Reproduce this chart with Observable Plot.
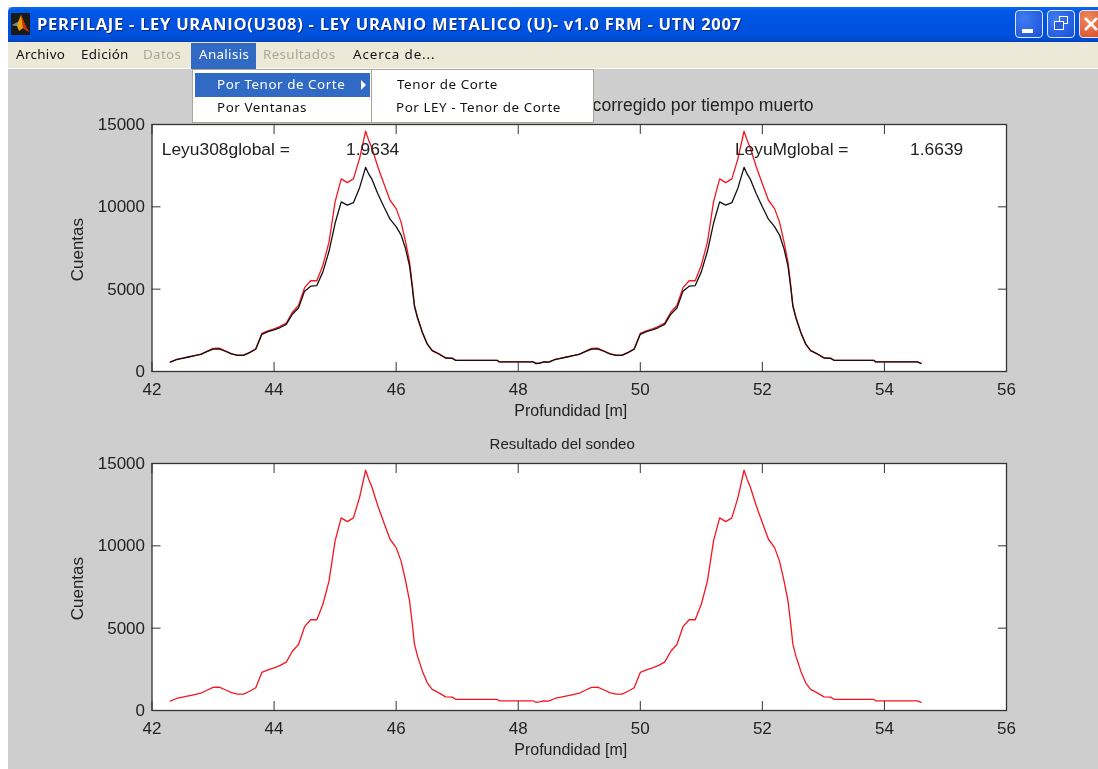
<!DOCTYPE html>
<html><head><meta charset="utf-8">
<script src="https://cdn.jsdelivr.net/npm/d3@7"></script>
<script src="https://cdn.jsdelivr.net/npm/@observablehq/plot@0.6"></script>
<style>
html,body{margin:0;padding:0;background:#fff;overflow:hidden}
#app{position:relative;width:1098px;height:769px;overflow:hidden;background:#fff;font-family:"Noto Sans",sans-serif;filter:blur(0.35px)}
#win{position:absolute;left:8px;top:7px;right:0;bottom:0;background:#cecece}
#bar{position:absolute;left:8px;top:7px;right:0;height:35px;background:linear-gradient(#0a6af0 0,#0058e6 12%,#0052de 55%,#0050dc 85%,#0046c0 100%);border-radius:5px 0 0 0}
#bartext{position:absolute;left:37px;top:12px;color:#fff;font:bold 16.5px "Open Sans",sans-serif;letter-spacing:.73px;white-space:nowrap;text-shadow:1px 1px 0 #0a2a80}
#menubar{position:absolute;left:8px;top:42px;right:0;height:27px;background:#ece9d8;border-bottom:1px solid #fafafa;box-sizing:border-box}
.m{position:absolute;font-size:13.4px;letter-spacing:.33px;white-space:nowrap;color:#111;line-height:16px;margin-top:-1px}
.d{letter-spacing:.55px}
.off{color:#aca899}
.box{position:absolute;background:#fff;border:1.5px solid #aca899;box-sizing:border-box}
.hl{position:absolute;background:#316ac5}
.btn{position:absolute;top:10px;height:28px;border:1px solid #dfe8fb;border-radius:4px;box-sizing:border-box;background:radial-gradient(circle at 30% 30%,#3f7cf0,#1a50d8)}
svg.plot{position:absolute;left:0;overflow:visible}
</style></head><body>
<div id="app">
 <div id="win"></div>
 <div id="bar"></div>
 <svg style="position:absolute;left:11px;top:13px" width="19" height="22" viewBox="0 0 19 22"><rect width="19" height="22" fill="#1a1a1a"/><path d="M1 12 L7 9 L10 2 L15 14 L18 19 L12 15 L8 18 L6 13Z" fill="#e8a010"/><path d="M10 2 L15 14 L18 19 L12 15Z" fill="#d02808"/><path d="M1 12 L7 9 L6 13Z" fill="#5a8a98"/></svg>
 <div id="bartext">PERFILAJE - LEY URANIO(U308) - LEY URANIO METALICO (U)- v1.0 FRM - UTN 2007</div>
 <div class="btn" style="left:1015px;width:28px"><div style="position:absolute;left:6px;top:18px;width:11px;height:4px;background:#fff"></div></div>
 <div class="btn" style="left:1047px;width:28px"><div style="position:absolute;left:11px;top:5px;width:9px;height:8px;border:1.5px solid #fff;box-sizing:border-box"></div><div style="position:absolute;left:6px;top:10px;width:10px;height:9px;border:1.5px solid #fff;box-sizing:border-box;background:#2a5ee0"></div></div>
 <div class="btn" style="left:1079px;width:30px;background:radial-gradient(circle at 30% 30%,#ee8a60,#d8401c)"><svg style="position:absolute;left:4px;top:6px" width="15" height="15"><path d="M1 1L13 13M13 1L1 13" stroke="#fff" stroke-width="2.6"/></svg></div>
 <div id="menubar"></div>
 <div class="hl" style="left:191px;top:43px;width:65px;height:26px"></div>
 <div class="m" style="left:16px;top:47px">Archivo</div>
 <div class="m" style="left:81px;top:47px">Edición</div>
 <div class="m off" style="left:143px;top:47px">Datos</div>
 <div class="m" style="left:199px;top:47px;color:#fff">Analisis</div>
 <div class="m off" style="left:263px;top:47px">Resultados</div>
 <div class="m" style="left:353px;top:47px;letter-spacing:.9px">Acerca de...</div>
 <div id="p1"></div><div id="p2"></div>
 <div class="box" style="left:192px;top:69px;width:180px;height:54px"></div>
 <div class="hl" style="left:195px;top:73px;width:175px;height:24px"></div>
 <div class="m d" style="left:217px;top:77px;color:#fff">Por Tenor de Corte</div>
 <div class="m d" style="left:217px;top:100px">Por Ventanas</div>
 <svg style="position:absolute;left:360px;top:80px" width="8" height="10"><path d="M1 0L6 5L1 10Z" fill="#fff"/></svg>
 <div class="box" style="left:371px;top:69px;width:223px;height:54px"></div>
 <div class="m d" style="left:397px;top:77px">Tenor de Corte</div>
 <div class="m d" style="left:396px;top:100px">Por LEY - Tenor de Corte</div>
</div>
<script>
const depth = [42.3,42.4,42.5,42.6,42.7,42.8,42.9,43.0,43.1,43.2,43.3,43.4,43.5,43.6,43.7,43.8,43.9,44.0,44.1,44.2,44.3,44.4,44.5,44.6,44.7,44.8,44.9,45.0,45.1,45.2,45.3,45.4,45.5,45.55,45.6,45.7,45.8,45.9,46.0,46.08,46.155,46.22,46.265,46.3,46.35,46.43,46.51,46.59,46.7,46.81,46.92,46.98,47.66,47.69,48.25,48.29,48.35,48.42,
48.5,48.6,48.7,48.8,48.9,49.0,49.1,49.2,49.3,49.4,49.5,49.6,49.7,49.8,49.9,50.0,50.1,50.2,50.3,50.4,50.5,50.6,50.7,50.8,50.9,51.0,51.1,51.2,51.3,51.4,51.5,51.6,51.7,51.75,51.8,51.9,52.0,52.1,52.2,52.28,52.355,52.42,52.465,52.5,52.55,52.63,52.71,52.79,52.9,53.01,53.12,53.18,53.83,53.86,54.54,54.6];
const corrected = [570,730,810,890,970,1050,1230,1400,1420,1260,1090,990,990,1170,1380,2310,2470,2590,2740,2940,3600,4010,5090,5510,5510,6450,7860,10300,11700,11470,11700,12930,14590,14050,13600,12430,11400,10400,9890,9085,7870,6650,5250,4030,3300,2390,1680,1280,1070,830,810,670,670,580,580,500,520,580,
570,730,810,890,970,1050,1230,1400,1420,1260,1090,990,990,1170,1380,2310,2470,2590,2740,2940,3600,4010,5090,5510,5510,6450,7860,10300,11700,11470,11700,12930,14590,14050,13600,12430,11400,10400,9890,9085,7870,6650,5250,4030,3300,2390,1680,1280,1070,830,810,670,670,580,580,490];
const measured = [570,720,800,880,960,1040,1210,1360,1380,1230,1070,980,980,1150,1350,2260,2420,2530,2670,2860,3480,3860,4880,5180,5220,6050,7300,9000,10300,10100,10250,11150,12400,12000,11700,10800,10000,9250,8800,8300,7450,6400,5100,3950,3250,2360,1660,1270,1060,820,800,670,670,580,580,480,500,580,
570,720,800,880,960,1040,1210,1360,1380,1230,1070,980,980,1150,1350,2260,2420,2530,2670,2860,3480,3860,4880,5180,5220,6050,7300,9000,10300,10100,10250,11150,12400,12000,11700,10800,10000,9250,8800,8300,7450,6400,5100,3950,3250,2360,1660,1270,1060,820,800,670,670,580,580,490];
const xTicks = [42,44,46,48,50,52,54,56];
const yTicks = [0,5000,10000,15000];
const labelsTop = [{x:42.16,y:13480,t:"Leyu308global ="},{x:45.18,y:13480,t:"1.9634"},{x:51.55,y:13480,t:"LeyuMglobal ="},{x:54.42,y:13480,t:"1.6639"}];

const redRows = depth.map((d,i)=>({d,v:corrected[i]}));
const blackRows = depth.map((d,i)=>({d,v:measured[i]}));
const fontFam = '"Liberation Sans",Arial,sans-serif';
const ink = "#222";

function panel(host, top, titleMark, lines, extra){
  const p = Plot.plot({
    width:1098, height:34+247+50, marginLeft:151.5, marginRight:92, marginTop:34, marginBottom:50,
    style:{background:"transparent",fontFamily:fontFam,fontSize:"17px",color:ink,position:"absolute",top:top+"px",left:"0"},
    x:{domain:[42,56],ticks:xTicks},
    y:{domain:[0,15000],ticks:yTicks},
    marks:[
      Plot.frame({fill:"#fff",stroke:"none"}),
      ...lines.map(l=>Plot.lineY(l.rows,{x:"d",y:"v",stroke:l.c,strokeWidth:1.3,curve:"linear"})),
      Plot.frame({stroke:"#333",strokeWidth:1.3}),
      Plot.axisX({anchor:"bottom",ticks:xTicks,tickSize:-9,tickPadding:20,label:null,fontSize:17,stroke:"#333"}),
      Plot.axisX({anchor:"top",ticks:xTicks,tickSize:-9,tickFormat:()=>"",label:null,stroke:"#333"}),
      Plot.axisY({anchor:"left",ticks:yTicks,tickSize:-9,tickPadding:16,tickFormat:d=>String(d),label:null,fontSize:17,stroke:"#333"}),
      Plot.axisY({anchor:"right",ticks:yTicks,tickSize:-9,tickFormat:()=>"",label:null,stroke:"#333"}),
      Plot.text(["Profundidad [m]"],{x:[48.86],y:[0],dy:39,fontSize:16,fill:ink}),
      Plot.text(["Cuentas"],{x:[42],y:[7400],dx:-74.5,rotate:-90,fontSize:17,fill:ink}),
      titleMark,
      ...extra
    ]
  });
  p.classList.add("plot");
  host.appendChild(p);
}
const annot = Plot.text(labelsTop,{x:"x",y:"y",text:"t",textAnchor:"start",fontSize:17.4,fill:ink});
panel(document.getElementById("p1"),90,
  Plot.text(["corregido por tiempo muerto"],{x:[52.84],y:[15000],dy:-19,textAnchor:"end",fontSize:17.6,fill:ink}),
  [{rows:redRows,c:"#f5161e"},{rows:blackRows,c:"#111"}],[annot]);
panel(document.getElementById("p2"),429,
  Plot.text(["Resultado del sondeo"],{x:[48.72],y:[15000],dy:-19,textAnchor:"middle",fontSize:15,fill:ink}),
  [{rows:redRows,c:"#f5161e"}],[]);
</script>
</body></html>
